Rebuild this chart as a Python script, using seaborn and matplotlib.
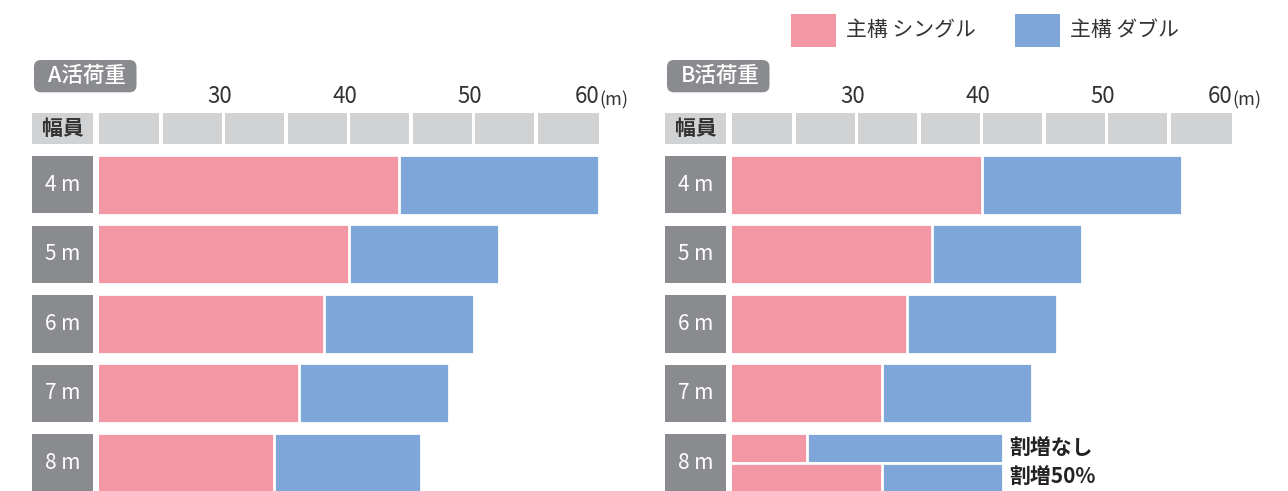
import numpy as np
import pandas as pd
import matplotlib
matplotlib.use("Agg")
import matplotlib.pyplot as plt
from matplotlib.patches import Rectangle, FancyBboxPatch
from matplotlib.transforms import IdentityTransform, ScaledTranslation
import seaborn as sns

# ---------------- data ----------------
widths = ["4 m", "5 m", "6 m", "7 m", "8 m"]
a_single = [44, 40, 38, 36, 34]
a_double = [60, 52, 50, 48, 45.8]
b_single = [40, 36, 34, 32]
b_double = [56, 48, 46, 44]
b8_labels = ["割増なし", "割増50%"]
b8_single = [26, 32]
b8_double = [41.7, 41.7]
xticks = [30, 40, 50, 60]
xtick_labels = ["30", "40", "50", "60"]
legend_labels = ["主構 シングル", "主構 ダブル"]
panel_titles = ["A活荷重", "B活荷重"]
header_label = "幅員"
unit_label = "(m)"

# ---------------- style ----------------
PINK = "#F397A5"
BLUE = "#7EA6D8"
LGRAY = "#D1D2D4"
DGRAY = "#8A8B8F"
TXT = "#333333"

sns.set_theme(style="white")
plt.rcParams["font.family"] = ["Noto Sans CJK JP", "DejaVu Sans"]

W, H = 1288, 491
fig = plt.figure(figsize=(W / 100, H / 100), dpi=100)
ID = IdentityTransform()

ROW0 = 184.7      # px centre of first row
PITCH = 69.55     # px per row
PXU = 12.5        # px per metre
AX_TOP = 112.0
Y_BOTTOM = (H - ROW0) / PITCH
Y_TOP = (AX_TOP - ROW0) / PITCH


def make_axes(left_px):
    ax = fig.add_axes([left_px / W, 0, 42 * PXU / W, (H - AX_TOP) / H])
    return ax


def decorate(ax, left_px, title, nrows):
    # header cells
    hy = (128.5 - ROW0) / PITCH
    hh = 31.6 / PITCH
    g = 0.14
    for i in range(8):
        x0 = 20 + 5 * i + (g if i > 0 else 0)
        x1 = 20 + 5 * (i + 1) - (g if i < 7 else 0)
        ax.add_patch(Rectangle((x0, hy - hh / 2), x1 - x0, hh, facecolor=LGRAY,
                               edgecolor="none", clip_on=False, zorder=1))
    # label column
    lx0 = 20 - 66.8 / PXU
    lx1 = 20 - 5.2 / PXU
    lw = lx1 - lx0
    ax.add_patch(Rectangle((lx0, hy - hh / 2), lw, hh, facecolor=LGRAY,
                           edgecolor="none", clip_on=False, zorder=1))
    ax.text(lx0 + lw / 2, hy, header_label, ha="center", va="center",
            fontsize=15, fontweight="bold", color=TXT, clip_on=False)
    rh = 57.5 / PITCH
    for i, lab in enumerate(widths[:nrows]):
        ax.add_patch(Rectangle((lx0, i - rh / 2), lw, rh, facecolor=DGRAY,
                               edgecolor="none", clip_on=False, zorder=1))
        ax.text(lx0 + lw / 2, i, lab, ha="center", va="center", fontsize=15,
                color="white", clip_on=False)
    # badge
    bx0 = left_px - 64.5
    fig.add_artist(FancyBboxPatch((bx0, H - 92.3), 102.5, 32.3,
                                  boxstyle="round,pad=0,rounding_size=7",
                                  facecolor=DGRAY, edgecolor="none", transform=ID))
    fig.text(bx0 + 53, H - 76, title, transform=ID, ha="center", va="center",
             fontsize=15.5, color="white", fontweight="medium")
    # ticks
    ax.xaxis.tick_top()
    ax.set_xticks(xticks)
    ax.set_xticklabels(xtick_labels)
    ax.tick_params(axis="x", length=0, pad=3, labelsize=16, labelcolor=TXT)
    offs = [-4, -4, -3.5, -11]
    for lab, o in zip(ax.get_xticklabels(), offs):
        lab.set_transform(lab.get_transform() + ScaledTranslation(o / 100, 0, fig.dpi_scale_trans))
    fig.text(left_px + 40 * PXU + 0.5, H - 100, unit_label, transform=ID,
             ha="left", va="center", fontsize=13, color=TXT)
    ax.set_yticks([])
    ax.set_xlabel("")
    ax.set_ylabel("")
    ax.set_xlim(20, 62)
    ax.set_ylim(Y_BOTTOM, Y_TOP)
    for s in ax.spines.values():
        s.set_visible(False)
    ax.set_facecolor("none")


def bars(ax, pos, single, double, width):
    df = pd.DataFrame({"pos": pos, "single": single, "double": double})
    common = dict(data=df, y="pos", orient="y", native_scale=True, width=width,
                  saturation=1, edgecolor="white", linewidth=2, errorbar=None,
                  ax=ax, zorder=2)
    sns.barplot(x="double", color=BLUE, **common)
    sns.barplot(x="single", color=PINK, **common)


# ---------------- panel A ----------------
A_LEFT = 98.5
axA = make_axes(A_LEFT)
bars(axA, np.arange(len(widths)), a_single, a_double, 0.86)
decorate(axA, A_LEFT, panel_titles[0], len(widths))

# ---------------- panel B ----------------
B_LEFT = 731.5
axB = make_axes(B_LEFT)
bars(axB, np.arange(len(b_single)), b_single, b_double, 0.86)
sub_pos = len(b_single) + np.array([-0.2146, 0.2146])
bars(axB, sub_pos, b8_single, b8_double, 1.0)
decorate(axB, B_LEFT, panel_titles[1], len(widths))
for p, lab in zip(sub_pos, b8_labels):
    axB.text((1009 - B_LEFT) / PXU + 20, p, lab, ha="left", va="center",
             fontsize=15, fontweight="bold", color="#222222", clip_on=False)

# ---------------- legend ----------------
for (sx, tx), col, lab in zip([(790.7, 846), (1015, 1070)], [PINK, BLUE], legend_labels):
    fig.add_artist(Rectangle((sx, H - 46.7), 45, 32.7, facecolor=col,
                             edgecolor="none", transform=ID))
    fig.text(tx, H - 30, lab, transform=ID, ha="left", va="center",
             fontsize=15, color=TXT)

fig.savefig("out.png", dpi=100)
